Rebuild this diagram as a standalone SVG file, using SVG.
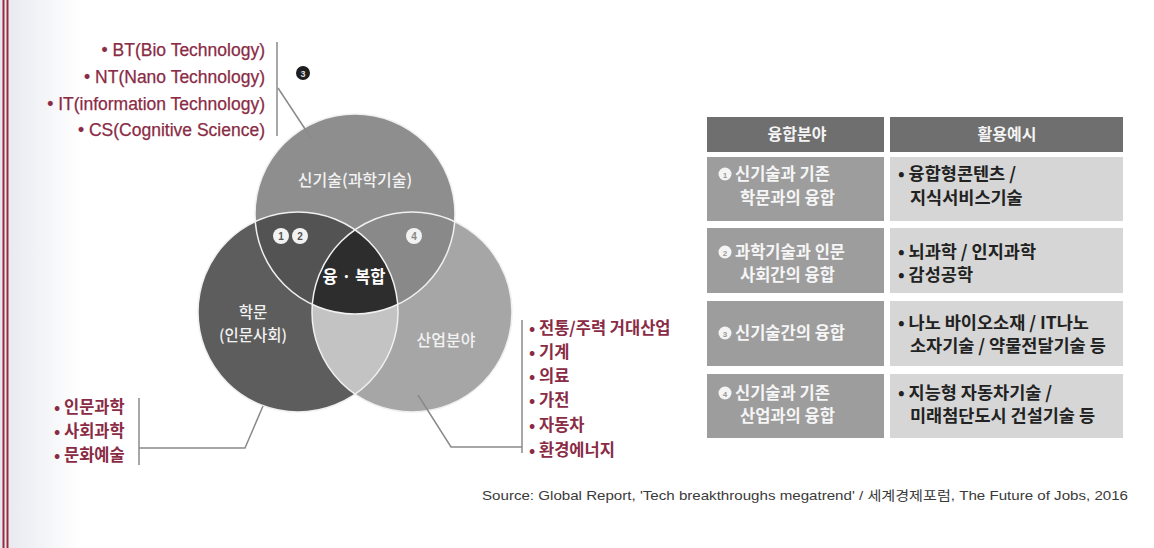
<svg xmlns="http://www.w3.org/2000/svg" width="1154" height="548" viewBox="0 0 1154 548">
  <style>
    .red { font-family: "Liberation Sans", "Noto Sans CJK KR", sans-serif; font-size: 17.5px; fill: #8a2b45; stroke: #8a2b45; stroke-width: 0.25; }
    .redk { font-family: "Noto Sans CJK KR", sans-serif; font-size: 16.5px; font-weight: 700; fill: #8a2b45; }
    .vl { font-family: "Noto Sans CJK KR", sans-serif; font-size: 16px; font-weight: 500; fill: #f2f2f2; text-anchor: middle; }
    .vb { font-family: "Noto Sans CJK KR", sans-serif; font-size: 16.5px; font-weight: 700; fill: #ffffff; text-anchor: middle; }
    .th { font-family: "Noto Sans CJK KR", sans-serif; font-size: 16px; font-weight: 700; fill: #f4f4f4; text-anchor: middle; }
    .tl { font-family: "Noto Sans CJK KR", sans-serif; font-size: 16.5px; font-weight: 700; fill: #f6f6f6; }
    .tr { font-family: "Noto Sans CJK KR", sans-serif; font-size: 17.5px; font-weight: 700; fill: #222222; }
    .num { font-family: "Liberation Sans", sans-serif; font-size: 10px; font-weight: 700; text-anchor: middle; }
    .conn { fill: none; stroke: #8a8a8a; stroke-width: 1.5; }
    .src { font-family: "Liberation Sans", "Noto Sans CJK KR", sans-serif; font-size: 13px; fill: #3a3a3a; }
  </style>
  <defs>
    <linearGradient id="bg" x1="0" y1="0" x2="1" y2="0">
      <stop offset="0" stop-color="#e6e8ef"/>
      <stop offset="0.07" stop-color="#ffffff"/>
      <stop offset="1" stop-color="#ffffff"/>
    </linearGradient>
    <clipPath id="cLeft"><circle cx="298" cy="312" r="100"/></clipPath>
    <clipPath id="cRight"><circle cx="412" cy="312" r="100"/></clipPath>
  </defs>

  <rect x="0" y="0" width="1154" height="548" fill="url(#bg)"/>
  <rect x="2.5" y="0" width="2" height="548" fill="#9a2a40"/>
  <rect x="6.5" y="0" width="2" height="548" fill="#9a2a40"/>

  <!-- Venn diagram -->
  <g id="venn">
    <circle cx="355" cy="214" r="100" fill="#8e8e8e"/>
    <circle cx="298" cy="312" r="100" fill="#5d5d5d"/>
    <circle cx="412" cy="312" r="100" fill="#a6a6a6"/>
    <g clip-path="url(#cLeft)"><circle cx="355" cy="214" r="100" fill="#535353"/></g>
    <g clip-path="url(#cRight)"><circle cx="355" cy="214" r="100" fill="#898989"/></g>
    <g clip-path="url(#cRight)"><circle cx="298" cy="312" r="100" fill="#c3c3c3"/></g>
    <g clip-path="url(#cRight)"><g clip-path="url(#cLeft)"><circle cx="355" cy="214" r="100" fill="#2d2d2d"/></g></g>
    <circle cx="355" cy="214" r="100" fill="none" stroke="#f0f0f0" stroke-width="1.5"/>
    <circle cx="298" cy="312" r="100" fill="none" stroke="#f0f0f0" stroke-width="1.5"/>
    <circle cx="412" cy="312" r="100" fill="none" stroke="#f0f0f0" stroke-width="1.5"/>
  </g>

  <g id="node-top">
    <text class="vl" x="355" y="186">신기술(과학기술)</text>
  </g>
  <g id="node-left">
    <text class="vl" x="253" y="318" style="font-size:15.5px">학문</text>
    <text class="vl" x="253" y="341" style="font-size:15.5px">(인문사회)</text>
  </g>
  <g id="node-right">
    <text class="vl" x="446" y="346">산업분야</text>
  </g>
  <g id="node-center">
    <text class="vb" x="354" y="283">융 · 복합</text>
  </g>
  <g id="badges">
    <circle cx="281" cy="236" r="8" fill="#f2f2f2"/>
    <text class="num" x="281" y="239.5" fill="#555">1</text>
    <circle cx="300" cy="236" r="8" fill="#f2f2f2"/>
    <text class="num" x="300" y="239.5" fill="#555">2</text>
    <circle cx="414" cy="236" r="8" fill="#f2f2f2"/>
    <text class="num" x="414" y="239.5" fill="#888">4</text>
    <circle cx="303" cy="73" r="7" fill="#1e1e1e"/>
    <text class="num" x="303" y="76.5" fill="#ddd" style="font-size:9px">3</text>
  </g>

  <!-- lists -->
  <g id="list-tech">
    <text class="red" x="265" y="56" text-anchor="end">• BT(Bio Technology)</text>
    <text class="red" x="265" y="83" text-anchor="end">• NT(Nano Technology)</text>
    <text class="red" x="265" y="110" text-anchor="end">• IT(information Technology)</text>
    <text class="red" x="265" y="136" text-anchor="end">• CS(Cognitive Science)</text>
  </g>
  <g id="list-academic">
    <text class="redk" x="54" y="413">• 인문과학</text>
    <text class="redk" x="54" y="437">• 사회과학</text>
    <text class="redk" x="54" y="461">• 문화예술</text>
  </g>
  <g id="list-industry">
    <text class="redk" x="529" y="334">• 전통/주력 거대산업</text>
    <text class="redk" x="529" y="358">• 기계</text>
    <text class="redk" x="529" y="382">• 의료</text>
    <text class="redk" x="529" y="406">• 가전</text>
    <text class="redk" x="529" y="431">• 자동차</text>
    <text class="redk" x="529" y="456">• 환경에너지</text>
  </g>

  <!-- connectors -->
  <g id="connectors">
    <line class="conn" x1="277" y1="42" x2="277" y2="136"/>
    <line class="conn" x1="278" y1="88" x2="311" y2="138"/>
    <line class="conn" x1="139" y1="398" x2="139" y2="465"/>
    <polyline class="conn" points="139,448 245,448 263,406"/>
    <line class="conn" x1="522" y1="320" x2="522" y2="453"/>
    <polyline class="conn" points="418,395 451,447 522,447"/>
  </g>

  <!-- table -->
  <g id="table-header">
    <rect x="707" y="117" width="177" height="35" fill="#6f6f6f"/>
    <rect x="890" y="117" width="233" height="35" fill="#6f6f6f"/>
    <text class="th" x="797" y="140">융합분야</text>
    <text class="th" x="1007" y="140">활용예시</text>
  </g>
  <g id="row1">
    <rect x="707" y="157" width="177" height="64" fill="#9d9d9d"/>
    <rect x="890" y="157" width="233" height="64" fill="#d6d6d6"/>
    <circle cx="725" cy="174" r="6.5" fill="#f4f4f4"/>
    <text class="num" x="725" y="177.5" fill="#999" style="font-size:8px">1</text>
    <text class="tl" x="735" y="180">신기술과 기존</text>
    <text class="tl" x="740" y="204">학문과의 융합</text>
    <text class="tr" x="898" y="180">• 융합형콘텐츠 /</text>
    <text class="tr" x="910" y="204">지식서비스기술</text>
  </g>
  <g id="row2">
    <rect x="707" y="228" width="177" height="65" fill="#9d9d9d"/>
    <rect x="890" y="228" width="233" height="65" fill="#d6d6d6"/>
    <circle cx="725" cy="252" r="6.5" fill="#f4f4f4"/>
    <text class="num" x="725" y="255.5" fill="#999" style="font-size:8px">2</text>
    <text class="tl" x="735" y="258">과학기술과 인문</text>
    <text class="tl" x="740" y="281">사회간의 융합</text>
    <text class="tr" x="898" y="258">• 뇌과학 / 인지과학</text>
    <text class="tr" x="898" y="281">• 감성공학</text>
  </g>
  <g id="row3">
    <rect x="707" y="301" width="177" height="65" fill="#9d9d9d"/>
    <rect x="890" y="301" width="233" height="65" fill="#d6d6d6"/>
    <circle cx="725" cy="333" r="6.5" fill="#f4f4f4"/>
    <text class="num" x="725" y="336.5" fill="#999" style="font-size:8px">3</text>
    <text class="tl" x="735" y="339">신기술간의 융합</text>
    <text class="tr" x="898" y="329">• 나노 바이오소재 / IT나노</text>
    <text class="tr" x="910" y="352">소자기술 / 약물전달기술 등</text>
  </g>
  <g id="row4">
    <rect x="707" y="374" width="177" height="64" fill="#9d9d9d"/>
    <rect x="890" y="374" width="233" height="64" fill="#d6d6d6"/>
    <circle cx="725" cy="393" r="6.5" fill="#f4f4f4"/>
    <text class="num" x="725" y="396.5" fill="#999" style="font-size:8px">4</text>
    <text class="tl" x="735" y="399">신기술과 기존</text>
    <text class="tl" x="740" y="422">산업과의 융합</text>
    <text class="tr" x="898" y="399">• 지능형 자동차기술 /</text>
    <text class="tr" x="910" y="422">미래첨단도시 건설기술 등</text>
  </g>

  <g id="source">
    <text class="src" x="482" y="500" textLength="646" lengthAdjust="spacingAndGlyphs">Source: Global Report, 'Tech breakthroughs megatrend' / 세계경제포럼, The Future of Jobs, 2016</text>
  </g>
</svg>
